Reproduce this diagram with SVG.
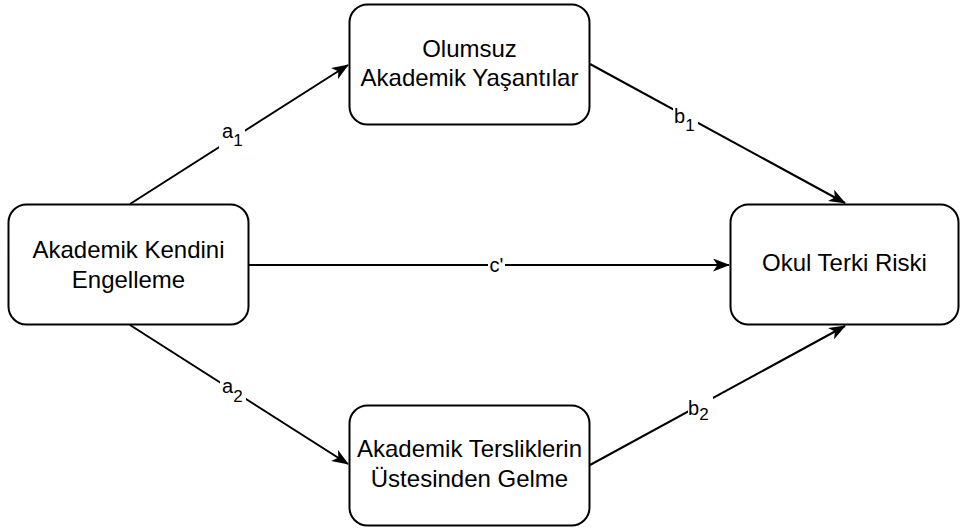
<svg xmlns="http://www.w3.org/2000/svg" width="960" height="528" viewBox="0 0 960 528">
<style>
.box{fill:#fff;stroke:#000;stroke-width:2}
.t{font-family:"Liberation Sans",Arial,sans-serif;font-size:24px;fill:#000;text-anchor:middle}
.e{stroke:#000;stroke-width:2;fill:none}
.lbl{font-family:"Liberation Sans",Arial,sans-serif;font-size:20px;fill:#000}
.sub{font-size:17px}
</style>
<defs>
<marker id="arr" viewBox="0 0 17 13" refX="16" refY="6.5" markerWidth="17" markerHeight="13" markerUnits="userSpaceOnUse" orient="auto">
<path d="M0,0 L17,6.5 L0,13 L4.5,6.5 Z" fill="#000"/>
</marker>
</defs>
<rect width="960" height="528" fill="#fff"/>
<g id="connectors">
<line class="e" x1="130" y1="204" x2="348" y2="65" marker-end="url(#arr)"/>
<line class="e" x1="590" y1="64" x2="845" y2="203" marker-end="url(#arr)"/>
<line class="e" x1="249" y1="265" x2="729" y2="265" marker-end="url(#arr)"/>
<line class="e" x1="130" y1="325" x2="348" y2="464" marker-end="url(#arr)"/>
<line class="e" x1="590" y1="465" x2="845" y2="326" marker-end="url(#arr)"/>
<rect x="219" y="121" width="26" height="28" fill="#fff"/>
<text class="lbl" x="222" y="138">a<tspan class="sub" dy="8">1</tspan></text>
<rect x="673" y="105" width="25" height="28" fill="#fff"/>
<text class="lbl" x="674" y="123">b<tspan class="sub" dy="8">1</tspan></text>
<rect x="488" y="254" width="17" height="21" fill="#fff"/>
<text class="lbl" x="496.5" y="272" text-anchor="middle">c'</text>
<rect x="220" y="376" width="26" height="28" fill="#fff"/>
<text class="lbl" x="222" y="393">a<tspan class="sub" dy="9">2</tspan></text>
<rect x="688" y="397" width="25" height="25" fill="#fff"/>
<text class="lbl" x="688" y="415">b<tspan class="sub" dy="5">2</tspan></text>
</g>
<g id="node-akademik-kendini-engelleme">
<rect class="box" x="8.5" y="204.5" width="240" height="120" rx="18"/>
<text class="t" x="128.5" y="258">Akademik Kendini</text>
<text class="t" x="128.5" y="288">Engelleme</text>
</g>
<g id="node-olumsuz-akademik-yasantilar">
<rect class="box" x="349.5" y="4.5" width="240" height="120" rx="18"/>
<text class="t" x="469.5" y="57">Olumsuz</text>
<text class="t" x="469.5" y="86">Akademik Yaşantılar</text>
</g>
<g id="node-akademik-tersliklerin">
<rect class="box" x="349.5" y="405.5" width="240" height="120" rx="18"/>
<text class="t" x="469.5" y="457">Akademik Tersliklerin</text>
<text class="t" x="469.5" y="487">Üstesinden Gelme</text>
</g>
<g id="node-okul-terki-riski">
<rect class="box" x="730.5" y="204.5" width="228" height="120" rx="18"/>
<text class="t" x="844.5" y="271">Okul Terki Riski</text>
</g>
</svg>
